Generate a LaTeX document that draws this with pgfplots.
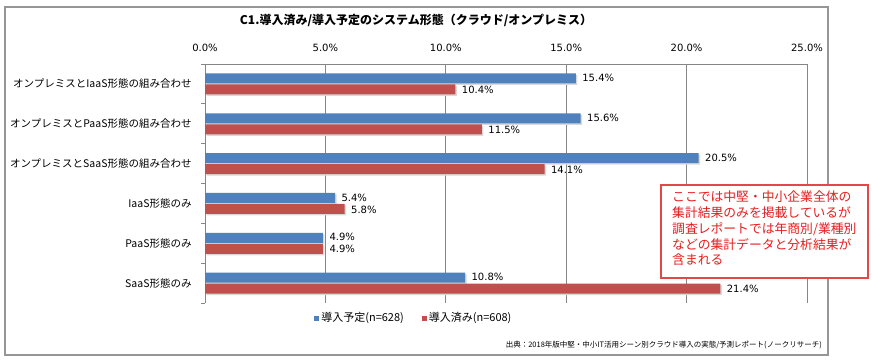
\documentclass[border=0pt]{standalone}
\usepackage{pgfplots}
\pgfplotsset{compat=1.18}
\usepackage{fontspec}
\setmainfont{Noto Sans CJK JP}
\newfontfamily\dejavu{DejaVu Sans}
\definecolor{cblue}{RGB}{79,129,189}
\definecolor{cred}{RGB}{192,80,77}
\definecolor{gridc}{RGB}{134,134,134}
\definecolor{framec}{RGB}{150,150,150}
\definecolor{notered}{RGB}{230,30,30}
\definecolor{noteborder}{RGB}{226,72,72}
\begin{document}
\begin{tikzpicture}
\path[use as bounding box] (0pt,0pt) rectangle (872pt,-362pt);
\draw[framec, line width=1.1pt] (5pt,-7pt) rectangle (828pt,-355pt);
\node[font=\bfseries\fontsize{12}{14}\selectfont, anchor=center] at (416pt,-20pt) {C1.導入済み/導入予定のシステム形態（クラウド/オンプレミス）};
\begin{axis}[
  at={(205pt,-64pt)}, anchor=north west,
  scale only axis, width=602pt, height=239pt,
  xbar, bar width=10pt,
  xmin=0, xmax=25, ymin=0.5, ymax=6.5,
  axis x line=top, axis y line=left,
  axis line style={-, draw=gridc, line width=0.8pt},
  xtick={0,5,...,25},
  xmajorgrids, grid style={gridc, line width=0.8pt},
  /pgf/number format/assume math mode=true,
  xticklabel={\pgfmathprintnumber[fixed,fixed zerofill,precision=1]{\tick}\%},
  xticklabel style={font=\dejavu\fontsize{10}{12}\selectfont, inner sep=0pt, yshift=8pt},
  x tick style={draw=none},
  ytick={1,...,6},
  yticklabels={SaaS形態のみ, PaaS形態のみ, IaaS形態のみ, オンプレミスとSaaS形態の組み合わせ, オンプレミスとPaaS形態の組み合わせ, オンプレミスとIaaS形態の組み合わせ},
  yticklabel style={font=\fontsize{10.5}{12}\selectfont, inner sep=0pt, anchor=east, xshift=-9pt},
  minor ytick={0.5,1.5,...,6.5},
  y tick style={draw=gridc, line width=0.8pt},
  major y tick style={draw=none},
  tick align=outside, minor tick length=4pt,
  point meta=x,
  legend style={draw=none, fill=none, at={(0.347,-0.063)}, anchor=center,
    legend columns=2, font=\fontsize{11}{13}\selectfont,
    /tikz/every even column/.append style={column sep=16pt}},
  legend cell align=left,
  clip=false,
]
% shadows
\addplot[forget plot, fill=black!15, draw=none, bar shift=5.5pt, xshift=1.5pt, yshift=-1.5pt]
  coordinates {(15.4,6) (15.6,5) (20.5,4) (5.4,3) (4.9,2) (10.8,1)};
\addplot[forget plot, fill=black!15, draw=none, bar shift=-5.5pt, xshift=1.5pt, yshift=-1.5pt]
  coordinates {(10.4,6) (11.5,5) (14.1,4) (5.8,3) (4.9,2) (21.4,1)};
% bars
\addplot[fill=cblue, draw=none, bar shift=5.5pt,
  nodes near coords={\pgfmathprintnumber[fixed,fixed zerofill,precision=1]{\pgfplotspointmeta}\%},
  nodes near coords align=horizontal,
  every node near coord/.append style={font=\dejavu\fontsize{10}{12}\selectfont, black, xshift=3pt, yshift=0.5pt},
  legend image code/.code={\fill[cblue] (0pt,-2.5pt) rectangle (5pt,2.5pt);}]
  coordinates {(15.4,6) (15.6,5) (20.5,4) (5.4,3) (4.9,2) (10.8,1)};
\addlegendentry{導入予定(n=628)}
\addplot[fill=cred, draw=none, bar shift=-5.5pt,
  nodes near coords={\pgfmathprintnumber[fixed,fixed zerofill,precision=1]{\pgfplotspointmeta}\%},
  nodes near coords align=horizontal,
  every node near coord/.append style={font=\dejavu\fontsize{10}{12}\selectfont, black, xshift=3pt, yshift=-0.5pt},
  legend image code/.code={\fill[cred] (0pt,-2.5pt) rectangle (5pt,2.5pt);}]
  coordinates {(10.4,6) (11.5,5) (14.1,4) (5.8,3) (4.9,2) (21.4,1)};
\addlegendentry{導入済み(n=608)}
\end{axis}
\node[anchor=east, font=\fontsize{7.5}{9}\selectfont, inner sep=0pt] at (822pt,-345pt) {出典：2018年版中堅・中小IT活用シーン別クラウド導入の実態/予測レポート(ノークリサーチ)};
\draw[noteborder, line width=1.3pt, fill=white] (661pt,-185pt) rectangle (868pt,-278pt);
\node[anchor=north west, inner sep=0pt, align=left, text=notered, font=\fontsize{12.8}{15.7}\selectfont] at (672pt,-191pt) {ここでは中堅・中小企業全体の\\集計結果のみを掲載しているが\\調査レポートでは年商別/業種別\\などの集計データと分析結果が\\含まれる};
\end{tikzpicture}
\end{document}
